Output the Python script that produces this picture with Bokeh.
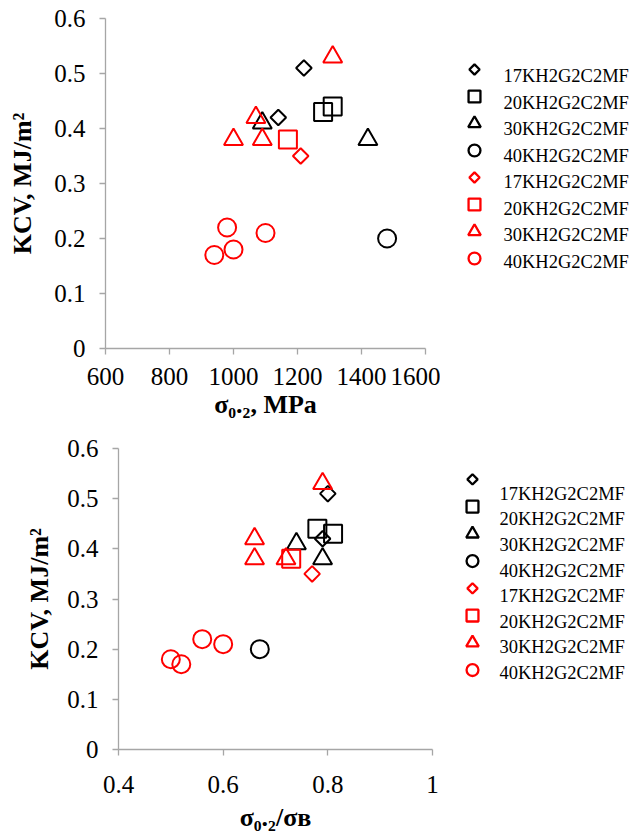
import math
from bokeh.plotting import figure
from bokeh.layouts import column, row
from bokeh.models import FixedTicker, NumeralTickFormatter, Range1d
from bokeh.core.properties import value
from bokeh.embed import file_html
from bokeh.resources import INLINE

# ---------------- data ----------------
series_labels = ["17KH2G2C2MF", "20KH2G2C2MF", "30KH2G2C2MF", "40KH2G2C2MF",
                 "17KH2G2C2MF", "20KH2G2C2MF", "30KH2G2C2MF", "40KH2G2C2MF"]
series_colors = ["black", "black", "black", "black", "red", "red", "red", "red"]
series_shapes = ["diamond", "square", "triangle", "circle",
                 "diamond", "square", "triangle", "circle"]

# top chart: yield strength sigma_0.2 (MPa) vs KCV (MJ/m2)
top_b17_x = [1220, 1140]
top_b17_y = [0.51, 0.42]
top_b20_x = [1280, 1310]
top_b20_y = [0.43, 0.44]
top_b30_x = [1090, 1420]
top_b30_y = [0.41, 0.38]
top_b40_x = [1480]
top_b40_y = [0.20]
top_r17_x = [1210]
top_r17_y = [0.35]
top_r20_x = [1170]
top_r20_y = [0.38]
top_r30_x = [1310, 1070, 1000, 1090]
top_r30_y = [0.53, 0.42, 0.38, 0.38]
top_r40_x = [980, 1000, 940, 1100]
top_r40_y = [0.22, 0.18, 0.17, 0.21]

# bottom chart: sigma_0.2/sigma_B vs KCV (MJ/m2)
bot_b17_x = [0.80, 0.79]
bot_b17_y = [0.51, 0.42]
bot_b20_x = [0.78, 0.81]
bot_b20_y = [0.44, 0.43]
bot_b30_x = [0.74, 0.79]
bot_b30_y = [0.41, 0.38]
bot_b40_x = [0.67]
bot_b40_y = [0.20]
bot_r17_x = [0.77]
bot_r17_y = [0.35]
bot_r20_x = [0.73]
bot_r20_y = [0.38]
bot_r30_x = [0.79, 0.66, 0.66, 0.72]
bot_r30_y = [0.53, 0.42, 0.38, 0.38]
bot_r40_x = [0.50, 0.52, 0.56, 0.60]
bot_r40_y = [0.18, 0.17, 0.22, 0.21]

top_x_ticks = [600, 800, 1000, 1200, 1400, 1600]
bot_x_ticks = [0.4, 0.6, 0.8, 1.0]
y_ticks = [0, 0.1, 0.2, 0.3, 0.4, 0.5, 0.6]

top_xs = [top_b17_x, top_b20_x, top_b30_x, top_b40_x, top_r17_x, top_r20_x, top_r30_x, top_r40_x]
top_ys = [top_b17_y, top_b20_y, top_b30_y, top_b40_y, top_r17_y, top_r20_y, top_r30_y, top_r40_y]
bot_xs = [bot_b17_x, bot_b20_x, bot_b30_x, bot_b40_x, bot_r17_x, bot_r20_x, bot_r30_x, bot_r40_x]
bot_ys = [bot_b17_y, bot_b20_y, bot_b30_y, bot_b40_y, bot_r17_y, bot_r20_y, bot_r30_y, bot_r40_y]

FONT = "Liberation Serif"
AXIS_GREY = "#a6a6a6"
PLOT_W = 440
LEG_W = 190


def add_marker(p, x, y, shape, color, scale, lw):
    if shape == "diamond":
        return p.scatter(x, y, marker="square", size=11 * scale, angle=math.pi / 4,
                         fill_color=None, line_color=color, line_width=lw)
    if shape == "triangle":
        return p.scatter(x, y, marker="triangle", size=19 * scale,
                         fill_color=None, line_color=color, line_width=lw)
    return p.scatter(x, y, marker=shape, size=18 * scale,
                     fill_color=None, line_color=color, line_width=lw)


def make_plot(xs, ys, x_start, x_end, x_ticks, x_label, height, b_left, b_top, b_bottom,
              frame_w, x_lab_standoff, x_title_standoff, y_title_standoff):
    p = figure(width=PLOT_W, height=height, output_backend="svg", toolbar_location=None,
               x_range=Range1d(x_start, x_end), y_range=Range1d(0, 0.6),
               min_border_left=b_left, min_border_right=PLOT_W - b_left - frame_w,
               min_border_top=b_top, min_border_bottom=b_bottom)
    p.outline_line_color = None
    p.xgrid.visible = False
    p.ygrid.visible = False

    for i in range(8):
        add_marker(p, xs[i], ys[i], series_shapes[i], series_colors[i], 1.0, 2)

    for ax in (p.xaxis[0], p.yaxis[0]):
        ax.axis_line_color = AXIS_GREY
        ax.major_tick_line_color = AXIS_GREY
        ax.axis_line_width = 1.3
        ax.major_tick_line_width = 1.3
        ax.minor_tick_line_color = None
        ax.major_tick_out = 6
        ax.major_tick_in = 0
        ax.major_label_text_font = FONT
        ax.major_label_text_font_size = "25px"
        ax.major_label_text_color = "black"
        ax.axis_label_text_font = FONT
        ax.axis_label_text_font_size = "26px"
        ax.axis_label_text_font_style = "bold"
        ax.axis_label_text_color = "black"
        ax.formatter = NumeralTickFormatter(format="0.[0]")

    p.xaxis[0].ticker = FixedTicker(ticks=x_ticks)
    p.yaxis[0].ticker = FixedTicker(ticks=y_ticks)
    p.xaxis[0].axis_label = x_label
    p.yaxis[0].axis_label = "KCV, MJ/m\u00b2"
    p.xaxis[0].major_label_standoff = x_lab_standoff
    p.yaxis[0].major_label_standoff = 14
    p.xaxis[0].axis_label_standoff = x_title_standoff
    p.yaxis[0].axis_label_standoff = y_title_standoff
    return p


def make_legend(height, frame_top, frame_bottom, marker_x, marker_y0, marker_pitch,
                text_x, text_y0, text_pitch):
    # the legend panel's frame is aligned with the neighbouring plot's frame,
    # so its y range is expressed in the panel's own pixel rows
    lp = figure(width=LEG_W, height=height, output_backend="svg", toolbar_location=None,
                x_range=Range1d(0, LEG_W), y_range=Range1d(frame_bottom, frame_top),
                min_border=0)
    lp.axis.visible = False
    lp.xgrid.visible = False
    lp.ygrid.visible = False
    lp.outline_line_color = None
    for i in range(8):
        add_marker(lp, [marker_x], [marker_y0 + marker_pitch * i], series_shapes[i],
                   series_colors[i], 0.66, 2.3)
    lp.text(x=[text_x] * 8, y=[text_y0 + text_pitch * i for i in range(8)],
            text=series_labels, text_font=value(FONT), text_font_size="18.5px",
            text_color="black", text_baseline="middle", text_align="left")
    return lp


p1 = make_plot(top_xs, top_ys, 600, 1600, top_x_ticks, "\u03c3\u2080.\u2082, MPa",
               height=425, b_left=105, b_top=18, b_bottom=77, frame_w=320,
               x_lab_standoff=13, x_title_standoff=2, y_title_standoff=14)
l1 = make_legend(425, 18, 348, 34, 69, 27.0, 63, 75.5, 26.5)
p2 = make_plot(bot_xs, bot_ys, 0.4, 1.0, bot_x_ticks, "\u03c3\u2080.\u2082/\u03c3\u0432",
               height=409, b_left=118, b_top=23, b_bottom=81, frame_w=314,
               x_lab_standoff=20, x_title_standoff=7, y_title_standoff=10)
l2 = make_legend(409, 23, 328, 32, 54.3, 27.6, 59, 69, 25.9)

layout = column(row(p1, l1, spacing=0), row(p2, l2, spacing=0), spacing=0)
open("out.html", "w").write(file_html(layout, INLINE))
